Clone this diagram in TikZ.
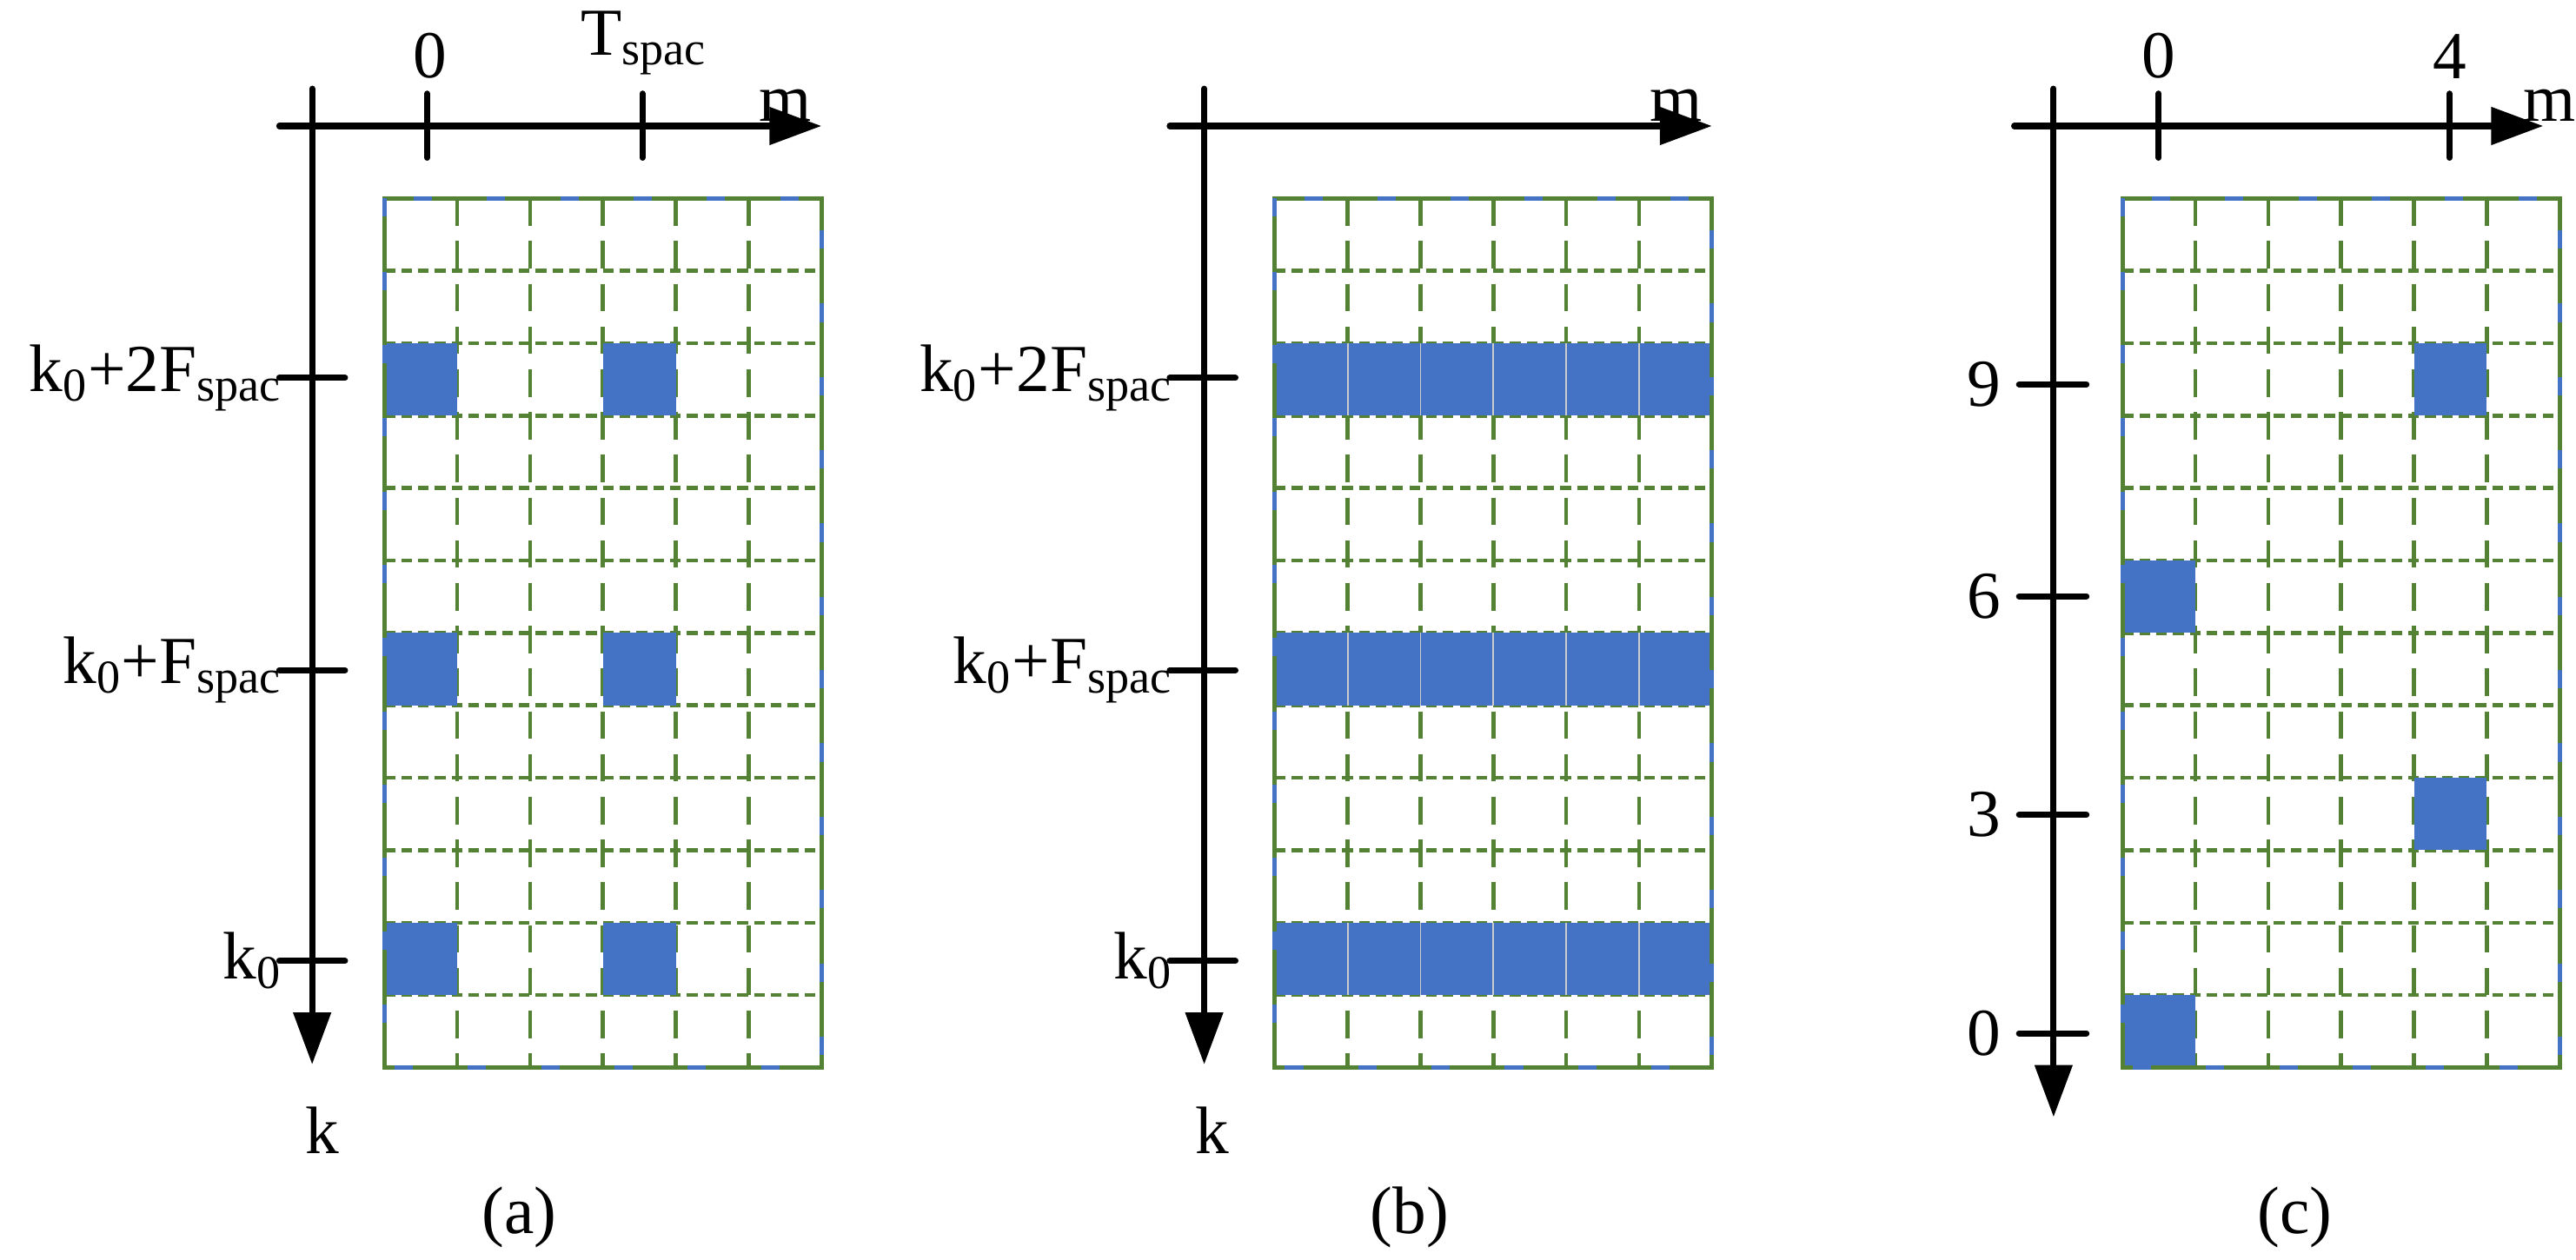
\documentclass[tikz,border=0pt]{standalone}
\usepackage{fontspec}
\setmainfont{Liberation Serif}
\usetikzlibrary{arrows.meta}
\definecolor{gg}{RGB}{84,130,53}
\definecolor{bb}{RGB}{68,114,196}
\begin{document}
\begin{tikzpicture}[x=0.018903cm,y=-0.018903cm,
  ax/.style={line width=2pt,line cap=round,-{Triangle[length=17pt,width=12pt]}},
  tk/.style={line width=2pt,line cap=round},
  vg/.style={gg,line width=1.3pt,dash pattern=on 9pt off 5pt},
  hg/.style={gg,line width=1.3pt,dash pattern=on 3.5pt off 2pt},
  lb/.style={font=\fontsize{22}{26}\selectfont,inner sep=0pt}]
\useasboundingbox (0,0) rectangle (1568,767);
\foreach \gx in {234,776,1292}{
  \foreach \i in {1,...,5} \draw[vg] (\gx+\i*44.33,120.7) -- (\gx+\i*44.33,650);
  \foreach \j in {1,...,11} \draw[hg] (\gx,120.7+\j*44.1) -- (\gx+266,120.7+\j*44.1);
}
\foreach \c/\r in {0/2,3/2,0/6,3/6,0/10,3/10}
  \fill[bb] (234+\c*44.33,120.7+\r*44.1) rectangle ++(44.33,44.1);
\foreach \r in {2,6,10}
  \fill[bb] (776,120.7+\r*44.1) rectangle ++(266,44.1);
\foreach \r in {2,6,10}\foreach \i in {1,...,5}
  \draw[gray!40,line width=0.5pt] (776+\i*44.33,120.7+\r*44.1) -- ++(0,44.1);
\foreach \c/\r in {0/11,0/5,4/8,4/2}
  \fill[bb] (1292+\c*44.33,120.7+\r*44.1) rectangle ++(44.33,44.1);
\foreach \gx in {234,776,1292}{
  \draw[gg,line width=1.4pt] (\gx,120.7) rectangle (\gx+266,650);
  \draw[bb,line width=1.4pt,dash pattern=on 6pt off 18pt] (\gx,120.7) rectangle (\gx+266,650);
}
% axes (a)
\coordinate (ah0) at (170,76.7); \coordinate (ah1) at (500,76.7);
\coordinate (av0) at (190,54); \coordinate (av1) at (190,648);
\draw[ax] (ah0) -- (ah1); \draw[ax] (av0) -- (av1);
\draw[tk] (260,57) -- (260,96); \draw[tk] (391,57) -- (391,96);
\node[lb,anchor=south] at (262,48) {0};
\node[lb,anchor=south] at (392,46) {T\textsubscript{spac}};
\node[lb] at (478,64) {m};
\node[lb] at (196,688) {k};
\foreach \y/\t in {230/{k\textsubscript{0}+2F\textsubscript{spac}},408/{k\textsubscript{0}+F\textsubscript{spac}},585/{k\textsubscript{0}}}{
  \draw[tk] (170,\y) -- (210,\y);
  \node[lb,anchor=east] at (172,\y) {\t};
}
% axes (b)
\draw[ax] (712,76.7) -- (1042,76.7); \draw[ax] (733,54) -- (733,648);
\node[lb] at (1020,64) {m};
\node[lb] at (738,688) {k};
\foreach \y/\t in {230/{k\textsubscript{0}+2F\textsubscript{spac}},408/{k\textsubscript{0}+F\textsubscript{spac}},585/{k\textsubscript{0}}}{
  \draw[tk] (712,\y) -- (752,\y);
  \node[lb,anchor=east] at (714,\y) {\t};
}
% axes (c)
\draw[ax] (1226,76.7) -- (1548,76.7); \draw[ax] (1250,54) -- (1250,680);
\draw[tk] (1314,57) -- (1314,96); \draw[tk] (1491,57) -- (1491,96);
\node[lb,anchor=south] at (1314,48) {0};
\node[lb,anchor=south] at (1491,48) {4};
\node[lb] at (1552,64) {m};
\foreach \y/\t in {234/9,363/6,496/3,629/0}{
  \draw[tk] (1229,\y) -- (1270,\y);
  \node[lb,anchor=east] at (1218,\y) {\t};
}
\node[lb] at (316,741) {(a)};
\node[lb] at (858,741) {(b)};
\node[lb] at (1397,741) {(c)};
\end{tikzpicture}
\end{document}
